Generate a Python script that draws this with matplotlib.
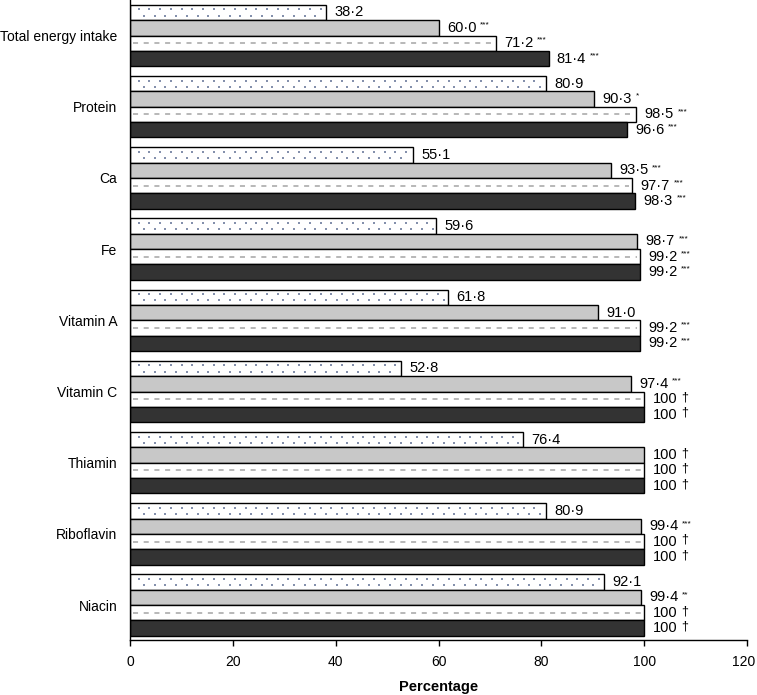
import matplotlib
matplotlib.use("Agg")
import matplotlib.pyplot as plt
import matplotlib.transforms as mtransforms
import numpy as np

plt.rcParams['font.family'] = ['Liberation Sans', 'DejaVu Sans']

categories = ["Total energy intake", "Protein", "Ca", "Fe", "Vitamin A",
              "Vitamin C", "Thiamin", "Riboflavin", "Niacin"]
s_dotted = [38.2, 80.9, 55.1, 59.6, 61.8, 52.8, 76.4, 80.9, 92.1]
s_grey = [60.0, 90.3, 93.5, 98.7, 91.0, 97.4, 100, 99.4, 99.4]
s_dashed = [71.2, 98.5, 97.7, 99.2, 99.2, 100, 100, 100, 100]
s_dark = [81.4, 96.6, 98.3, 99.2, 99.2, 100, 100, 100, 100]
m_dotted = [""] * 9
m_grey = ["***", "*", "***", "***", "", "***", "\u2020", "***", "**"]
m_dashed = ["***", "***", "***", "***", "***", "\u2020", "\u2020", "\u2020", "\u2020"]
m_dark = ["***", "***", "***", "***", "***", "\u2020", "\u2020", "\u2020", "\u2020"]
xticks = [0, 20, 40, 60, 80, 100, 120]

series = [s_dotted, s_grey, s_dashed, s_dark]
marks = [m_dotted, m_grey, m_dashed, m_dark]
faces = ["white", "#c8c8c8", "white", "#333333"]

fig = plt.figure(figsize=(7.57, 6.95), dpi=100)
ax = fig.add_axes([130 / 757, 55 / 695, 617 / 757, 640 / 695])

h = 0.216
ypos = np.arange(len(categories))

def fmt(v):
    if abs(v - round(v)) < 1e-9 and v >= 100:
        return str(int(round(v)))
    return ("%.1f" % v).replace(".", "\u00b7")

for k, (vals, mk, fc) in enumerate(zip(series, marks, faces)):
    yc = ypos + (k - 1.5) * h
    ax.barh(yc, vals, height=h, color=fc, edgecolor="black", linewidth=1.0, zorder=2)
    for y, v, m in zip(yc, vals, mk):
        if k == 0:
            step = 2.08
            xs1 = np.arange(1.7, v - 0.6, step)
            xs2 = np.arange(1.7 + step / 2, v - 0.6, step)
            ax.scatter(xs1, np.full_like(xs1, y - 0.2 * h), s=1.8, marker="s",
                       color="#8490ac", linewidths=0, zorder=3)
            ax.scatter(xs2, np.full_like(xs2, y + 0.2 * h), s=1.8, marker="s",
                       color="#8490ac", linewidths=0, zorder=3)
        if k == 2:
            ax.plot([0.6, v - 0.6], [y, y], color="#b8b8b8", lw=1.4,
                    dashes=(2.6, 2.9), zorder=3, dash_capstyle="butt")
        t = ax.annotate(fmt(v), xy=(v, y), xytext=(6, 0), textcoords="offset points",
                        va="center", ha="left", fontsize=10.5, zorder=4)
        if m:
            if "*" in m:
                ax.annotate(m, xy=(1, 1), xycoords=t, xytext=(2.5, -0.5),
                            textcoords="offset points", va="top", ha="left",
                            fontsize=6, zorder=4)
            else:
                ax.annotate(m, xy=(1, 1), xycoords=t, xytext=(3, 0.5),
                            textcoords="offset points", va="top", ha="left",
                            fontsize=9, zorder=4)

ax.set_ylim((640 - 35.5) / 71.2, (0 - 35.5) / 71.2)
ax.set_xlim(0, 120)
ax.set_xticks(xticks)
ax.set_xticklabels([str(x) for x in xticks], fontsize=10)
ax.set_yticks(ypos)
ax.set_yticklabels(categories, fontsize=10)
ax.tick_params(axis="y", length=0, pad=9)
ax.tick_params(axis="x", length=4, width=1, pad=7, direction="out")
ax.spines["top"].set_visible(False)
ax.spines["right"].set_visible(False)
ax.spines["left"].set_linewidth(1)
ax.spines["bottom"].set_linewidth(1)
ax.set_xlabel("Percentage", fontsize=10.5, fontweight="bold", labelpad=8)

# nudge the last tick label so it stays fully inside the figure
last = ax.get_xticklabels()[-1]
last.set_transform(last.get_transform() +
                   mtransforms.ScaledTranslation(-3 / 100, 0, fig.dpi_scale_trans))

fig.savefig("out.png", dpi=100)
